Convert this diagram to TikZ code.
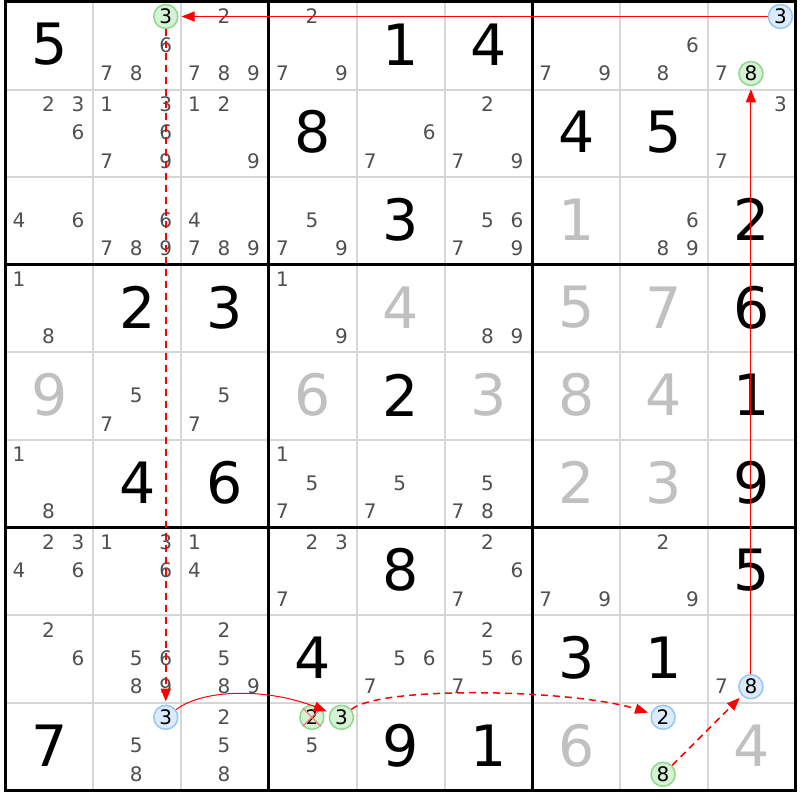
\documentclass[tikz,border=0pt]{standalone}
\usepackage{fontspec}
\setmainfont{DejaVu Sans}
\usetikzlibrary{arrows.meta}
\definecolor{candgrey}{HTML}{505050}
\definecolor{solvedgrey}{HTML}{C0C0C0}
\definecolor{thingrid}{HTML}{D6D6D6}
\definecolor{gfill}{HTML}{D5F2D5}
\definecolor{gdraw}{HTML}{8ED88E}
\definecolor{bfill}{HTML}{DCEBFB}
\definecolor{bdraw}{HTML}{96C6F2}
\definecolor{linkred}{HTML}{FF0000}
\definecolor{xred}{HTML}{FF7070}
\newcommand\bigd[4]{\node[bigdigit,text=#4] (g#1#2) at ({5.5+87.8*#2+44},{2+87.6*#1+42.5}) {#3};}
\newcommand\cand[4][candplain]{\node[#1] (c#2#3#4) at ({5.5+87.8*#3+13.5+29.5*mod(#4-1,3)},{2+87.6*#2+14.5+28.5*floor((#4-1)/3)}) {#4};}
\newcommand\cands[3]{\foreach \d in {#3} {\cand{#1}{#2}{\d}}}
\begin{document}
\begin{tikzpicture}[x=1pt,y=-1pt,
  candplain/.style={text=candgrey,font=\fontsize{20}{20}\selectfont,inner sep=0pt},
  candring/.style={circle,line width=1.5pt,minimum size=24pt,inner sep=0pt,text=black,font=\fontsize{20}{20}\selectfont},
  candg/.style={candring,draw=gdraw,fill=gfill},
  candb/.style={candring,draw=bdraw,fill=bfill},
  bigdigit/.style={font=\fontsize{57}{57}\selectfont,inner sep=0pt},
  thinline/.style={draw=thingrid,line width=2pt},
  thickline/.style={draw=black,line width=3pt},
  link/.style={draw=linkred,line width=1pt,-{Triangle[length=13pt,width=10pt]},shorten >=3pt},
  weaklink/.style={link,line width=1.5pt,dash pattern=on 7pt off 5pt},
  xmark/.style={draw=xred,line width=1.5pt,opacity=0.8}]
\useasboundingbox (0,0) rectangle (800,800);
\fill[white] (0,0) rectangle (800,800);
% grid
\foreach \i in {1,2,4,5,7,8} {
  \draw[thinline] ({5.5+87.8*\i},2) -- ({5.5+87.8*\i},790);
  \draw[thinline] (5.5,{2+87.6*\i}) -- (795.5,{2+87.6*\i});
}
\foreach \i in {0,3,6,9} {
  \draw[thickline] ({5.5+87.8*\i},0.5) -- ({5.5+87.8*\i},791.5);
  \draw[thickline] (4,{2+87.6*\i}) -- (797,{2+87.6*\i});
}
% given and solved digits
\bigd{0}{0}{5}{black}\bigd{0}{4}{1}{black}\bigd{0}{5}{4}{black}
\bigd{1}{3}{8}{black}\bigd{1}{6}{4}{black}\bigd{1}{7}{5}{black}
\bigd{2}{4}{3}{black}\bigd{2}{6}{1}{solvedgrey}\bigd{2}{8}{2}{black}
\bigd{3}{1}{2}{black}\bigd{3}{2}{3}{black}\bigd{3}{4}{4}{solvedgrey}\bigd{3}{6}{5}{solvedgrey}\bigd{3}{7}{7}{solvedgrey}\bigd{3}{8}{6}{black}
\bigd{4}{0}{9}{solvedgrey}\bigd{4}{3}{6}{solvedgrey}\bigd{4}{4}{2}{black}\bigd{4}{5}{3}{solvedgrey}\bigd{4}{6}{8}{solvedgrey}\bigd{4}{7}{4}{solvedgrey}\bigd{4}{8}{1}{black}
\bigd{5}{1}{4}{black}\bigd{5}{2}{6}{black}\bigd{5}{6}{2}{solvedgrey}\bigd{5}{7}{3}{solvedgrey}\bigd{5}{8}{9}{black}
\bigd{6}{4}{8}{black}\bigd{6}{8}{5}{black}
\bigd{7}{3}{4}{black}\bigd{7}{6}{3}{black}\bigd{7}{7}{1}{black}
\bigd{8}{0}{7}{black}\bigd{8}{4}{9}{black}\bigd{8}{5}{1}{black}\bigd{8}{6}{6}{solvedgrey}\bigd{8}{8}{4}{solvedgrey}
% candidates
\cands{0}{1}{6,7,8}\cands{0}{2}{2,7,8,9}\cands{0}{3}{2,7,9}\cands{0}{6}{7,9}\cands{0}{7}{6,8}\cands{0}{8}{7}
\cands{1}{0}{2,3,6}\cands{1}{1}{1,3,6,7,9}\cands{1}{2}{1,2,9}\cands{1}{4}{6,7}\cands{1}{5}{2,7,9}\cands{1}{8}{3,7}
\cands{2}{0}{4,6}\cands{2}{1}{6,7,8,9}\cands{2}{2}{4,7,8,9}\cands{2}{3}{5,7,9}\cands{2}{5}{5,6,7,9}\cands{2}{7}{6,8,9}
\cands{3}{0}{1,8}\cands{3}{3}{1,9}\cands{3}{5}{8,9}
\cands{4}{1}{5,7}\cands{4}{2}{5,7}
\cands{5}{0}{1,8}\cands{5}{3}{1,5,7}\cands{5}{4}{5,7}\cands{5}{5}{5,7,8}
\cands{6}{0}{2,3,4,6}\cands{6}{1}{1,3,6}\cands{6}{2}{1,4}\cands{6}{3}{2,3,7}\cands{6}{5}{2,6,7}\cands{6}{6}{7,9}\cands{6}{7}{2,9}
\cands{7}{0}{2,6}\cands{7}{1}{5,6,8,9}\cands{7}{2}{2,5,8,9}\cands{7}{4}{5,6,7}\cands{7}{5}{2,5,6,7}\cands{7}{8}{7}
\cands{8}{1}{5,8}\cands{8}{2}{2,5,8}\cands{8}{3}{5}
% highlighted candidates
\cand[candg]{0}{1}{3}
\cand[candb]{0}{8}{3}
\cand[candg]{0}{8}{8}
\cand[candb]{7}{8}{8}
\cand[candb]{8}{1}{3}
\cand[candg]{8}{3}{2}
\cand[candg]{8}{3}{3}
\cand[candb]{8}{7}{2}
\cand[candg]{8}{7}{8}
\draw[xmark] (c832.north west) -- (c832.south east);
\draw[xmark] (c832.north east) -- (c832.south west);
% links
\draw[link] (c083) -- (c013);
\draw[weaklink] (c013) -- (c813);
\draw[link] (c813) .. controls +(40,-30) and +(-70,-28) .. (c833);
\draw[weaklink] (c833) .. controls +(40,-32) and +(-90,-28) .. (c872);
\draw[weaklink] (c878) -- (c788);
\draw[link] (c788) -- (c088);
\end{tikzpicture}
\end{document}
